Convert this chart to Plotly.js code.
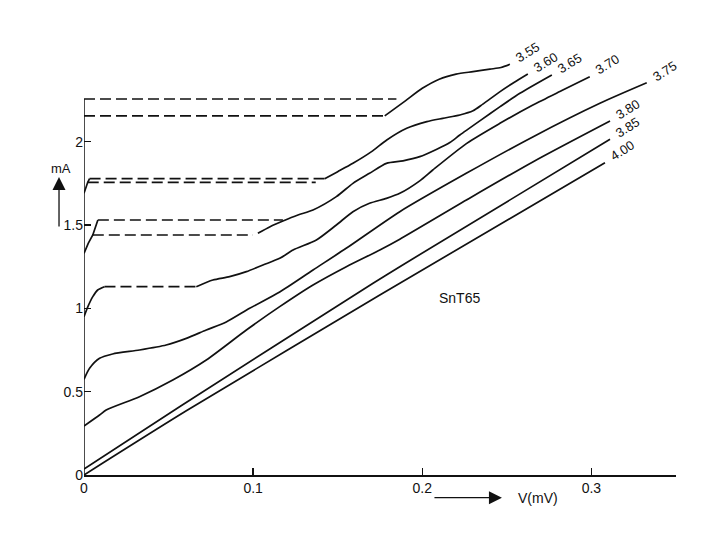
<!DOCTYPE html>
<html>
<head>
<meta charset="utf-8">
<script src="https://cdn.plot.ly/plotly-3.0.1.min.js"></script>
<style>
  html, body { margin: 0; padding: 0; background: #fff; }
  #plot { width: 720px; height: 540px; }
</style>
</head>
<body>
<div id="plot"></div>
<script>
// current-voltage curves, V in mV, I in mA, one set per temperature label
var temps = ['3.55', '3.60', '3.65', '3.70', '3.75', '3.80', '3.85', '4.00'];

// 3.55
var v355dA = [0, 0.1847], i355dA = [2.256, 2.256];
var v355dB = [0, 0.1778], i355dB = [2.155, 2.155];
var v355 = [0.1778, 0.19, 0.2, 0.21, 0.22, 0.23, 0.24, 0.2465, 0.2518];
var i355 = [2.155, 2.245, 2.32, 2.375, 2.405, 2.42, 2.435, 2.445, 2.464];

// 3.60
var v360r = [0, 0.0012, 0.0022, 0.0033], i360r = [1.69, 1.73, 1.756, 1.778];
var v360dA = [0.0033, 0.1423], i360dA = [1.778, 1.778];
var v360dB = [0.0022, 0.137], i360dB = [1.756, 1.756];
var v360 = [0.1423, 0.15, 0.159, 0.17, 0.179, 0.1908, 0.2027, 0.2121, 0.2222, 0.23, 0.2358, 0.246, 0.2542, 0.2624];
var i360 = [1.778, 1.82, 1.87, 1.94, 2.01, 2.08, 2.12, 2.14, 2.16, 2.185, 2.225, 2.30, 2.355, 2.406];

// 3.65
var v365r = [0, 0.0025, 0.0052, 0.0082], i365r = [1.33, 1.39, 1.44, 1.53];
var v365dA = [0.0082, 0.1176], i365dA = [1.53, 1.53];
var v365dB = [0.0052, 0.0999], i365dB = [1.44, 1.44];
var v365 = [0.1028, 0.11, 0.1176, 0.1265, 0.1354, 0.1492, 0.159, 0.1688, 0.1788, 0.1886, 0.1985, 0.2086, 0.2163, 0.2222, 0.234, 0.246, 0.2577, 0.2766];
var i365 = [1.45, 1.49, 1.524, 1.56, 1.59, 1.67, 1.75, 1.81, 1.87, 1.885, 1.91, 1.955, 1.995, 2.04, 2.125, 2.21, 2.29, 2.40];

// 3.70
var v370r = [0, 0.0023, 0.0052, 0.0081, 0.0121], i370r = [0.95, 1.01, 1.07, 1.11, 1.13];
var v370d = [0.0121, 0.0664], i370d = [1.13, 1.13];
var v370 = [0.0664, 0.0762, 0.0861, 0.096, 0.1058, 0.1157, 0.1236, 0.1374, 0.1492, 0.159, 0.1688, 0.1788, 0.1867, 0.1985, 0.2062, 0.2263, 0.2459, 0.2654, 0.2831, 0.299];
var i370 = [1.13, 1.17, 1.19, 1.22, 1.26, 1.30, 1.35, 1.41, 1.50, 1.58, 1.63, 1.66, 1.69, 1.765, 1.83, 1.99, 2.11, 2.22, 2.31, 2.39];

// 3.75
var v375 = [0, 0.0033, 0.0092, 0.0169, 0.0328, 0.0486, 0.0605, 0.0723, 0.0841, 0.0979, 0.1157, 0.1354, 0.155, 0.1867, 0.226, 0.2656, 0.305, 0.3327];
var i375 = [0.574, 0.64, 0.70, 0.726, 0.75, 0.78, 0.82, 0.87, 0.918, 1.00, 1.098, 1.23, 1.36, 1.58, 1.81, 2.03, 2.23, 2.353];

// 3.80
var v380 = [0, 0.0092, 0.0131, 0.0328, 0.0525, 0.0723, 0.096, 0.1157, 0.1354, 0.1551, 0.1749, 0.1867, 0.2261, 0.2656, 0.311];
var i380 = [0.294, 0.36, 0.39, 0.47, 0.57, 0.69, 0.87, 1.01, 1.14, 1.25, 1.35, 1.415, 1.65, 1.88, 2.124];

// 3.85
var v385 = [0, 0.0565, 0.1709, 0.1867, 0.311];
var i385 = [0.036, 0.41, 1.15, 1.25, 2.014];

// 4.00
var v400 = [0, 0.0605, 0.1749, 0.308];
var i400 = [0, 0.385, 1.08, 1.874];

var xTicks = [0, 0.1, 0.2, 0.3], xTickText = ['0', '0.1', '0.2', '0.3'];
var yTicks = [0, 0.5, 1, 1.5, 2], yTickText = ['0', '0.5', '1', '1.5', '2'];
var yAxisTop = 2.256;

var FONT = 'Liberation Sans, Arial, sans-serif';

function line(x, y, dashed, smooth) {
  return {
    x: x, y: y, type: 'scatter', mode: 'lines', hoverinfo: 'skip',
    line: {
      color: '#111', width: 1.7,
      dash: dashed ? '11px,5px' : 'solid',
      shape: smooth ? 'spline' : 'linear', smoothing: 0.7
    }
  };
}

var data = [
  line(v355dA, i355dA, true), line(v355dB, i355dB, true), line(v355, i355, false, true),
  line(v360r, i360r), line(v360dA, i360dA, true), line(v360dB, i360dB, true), line(v360, i360, false, true),
  line(v365r, i365r), line(v365dA, i365dA, true), line(v365dB, i365dB, true), line(v365, i365, false, true),
  line(v370r, i370r, false, true), line(v370d, i370d, true), line(v370, i370, false, true),
  line(v375, i375, false, true),
  line(v380, i380, false, true),
  line(v385, i385, false, true),
  line(v400, i400, false, true)
];

// curve labels at the end of each solid branch
var ends = [[v355, i355], [v360, i360], [v365, i365], [v370, i370], [v375, i375], [v380, i380], [v385, i385], [v400, i400]];
var annotations = ends.map(function (e, k) {
  return {
    x: e[0][e[0].length - 1], y: e[1][e[1].length - 1], xref: 'x', yref: 'y',
    text: temps[k], showarrow: false, textangle: -32,
    xanchor: 'left', yanchor: 'bottom', xshift: 0, yshift: -4,
    font: {family: FONT, size: 13, color: '#111'}
  };
});

annotations.push({
  x: 0.222, y: 1.062, xref: 'x', yref: 'y', text: 'SnT65', showarrow: false,
  xanchor: 'center', yanchor: 'middle',
  font: {family: FONT, size: 14, color: '#111'}
});
// axis captions with their arrows
annotations.push({
  x: -0.0389, y: 0.68, xref: 'paper', yref: 'paper', text: 'mA', showarrow: false,
  xanchor: 'center', yanchor: 'middle',
  font: {family: FONT, size: 13, color: '#111'}
});
annotations.push({
  x: -0.0422, y: 0.6622, xref: 'paper', yref: 'paper', text: '', showarrow: true,
  ax: 0, ay: 51, arrowhead: 2, arrowsize: 2, arrowwidth: 1.3, arrowcolor: '#111'
});
annotations.push({
  x: 0.706, y: -0.0504, xref: 'paper', yref: 'paper', text: '', showarrow: true,
  ax: -69, ay: 0, arrowhead: 2, arrowsize: 2, arrowwidth: 1.3, arrowcolor: '#111'
});
annotations.push({
  x: 0.767, y: -0.0504, xref: 'paper', yref: 'paper', text: 'V(mV)', showarrow: false,
  xanchor: 'center', yanchor: 'middle',
  font: {family: FONT, size: 14, color: '#111'}
});

var layout = {
  width: 720, height: 540,
  margin: {l: 84, r: 44, t: 25, b: 65},
  paper_bgcolor: '#fff', plot_bgcolor: '#fff',
  showlegend: false,
  font: {family: FONT, size: 14, color: '#111'},
  xaxis: {
    range: [0, 0.35], showgrid: false, zeroline: false,
    showline: true, linecolor: '#111', linewidth: 1.5,
    ticks: 'inside', ticklen: 7, tickwidth: 1.3, tickcolor: '#111',
    tickmode: 'array', tickvals: xTicks, ticktext: xTickText
  },
  yaxis: {
    range: [0, 2.7], showgrid: false, zeroline: false,
    showline: false,
    ticks: 'inside', ticklen: 7, tickwidth: 1.3, tickcolor: '#111',
    tickmode: 'array', tickvals: yTicks, ticktext: yTickText
  },
  // the printed current axis stops at the top dashed level
  shapes: [{
    type: 'line', xref: 'x', yref: 'y', x0: 0, x1: 0, y0: 0, y1: yAxisTop,
    line: {color: '#111', width: 1.5}
  }],
  annotations: annotations
};

Plotly.newPlot('plot', data, layout, {staticPlot: true});
</script>
</body>
</html>
